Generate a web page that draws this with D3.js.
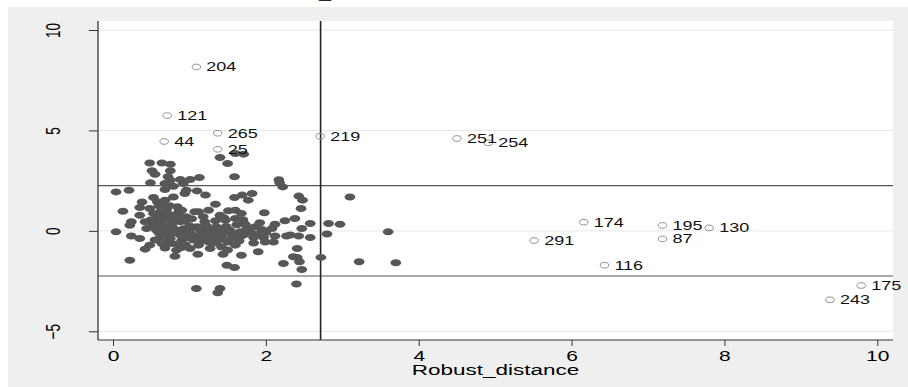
<!DOCTYPE html>
<html>
<head>
<meta charset="utf-8">
<script src="https://cdn.jsdelivr.net/npm/d3@7"></script>
<style>
  html, body { margin: 0; padding: 0; background: #fff; }
  svg { display: block; }
  text { font-family: "Liberation Sans", Arial, Helvetica, sans-serif; }
</style>
</head>
<body>
<svg id="chart" width="908" height="387"></svg>
<script>
// Observations inside the cutoffs: [robust distance, studentized residual]
const regular = [
  [0.48,3.38],[0.64,3.38],[0.75,3.32],[0.51,2.99],[0.55,2.82],[0.75,2.99],[0.72,2.69],[0.75,2.52],
  [0.88,2.56],[1.01,2.56],[0.49,2.39],[0.68,2.36],[0.79,2.22],[0.92,2.36],[0.68,2.06],[0.96,2.02],
  [0.04,1.94],[0.21,2.02],[0.53,1.66],[0.68,1.53],[0.79,1.69],[0.94,1.86],[0.38,1.44],[0.35,1.16],
  [0.13,0.98],[0.35,0.78],[0.48,1.11],[0.53,0.87],[0.59,0.70],[0.70,1.03],[0.77,0.78],[0.90,1.03],
  [0.96,0.70],[1.07,0.95],[0.24,0.45],[0.22,0.28],[0.42,0.45],[0.55,0.37],[0.66,0.28],[0.77,0.37],
  [0.88,0.45],[0.44,0.12],[0.57,0.03],[0.70,0.03],[0.83,0.03],[0.04,-0.05],[0.24,-0.26],[0.35,-0.38],
  [0.62,-0.30],[0.75,-0.38],[0.88,-0.21],[1.01,-0.13],[0.64,-0.63],[0.77,-0.63],[0.90,-0.46],[1.05,-0.46],
  [0.48,-0.71],[0.42,-0.91],[0.83,-0.96],[0.81,-1.26],[0.90,-0.83],[1.01,-0.88],[0.22,-1.46],[1.09,-2.87],
  [1.40,3.65],[1.50,3.35],[1.60,3.85],[1.71,3.82],[1.13,2.66],[1.59,2.69],[2.17,2.55],[2.18,2.40],
  [2.22,2.19],[1.10,1.99],[1.21,1.78],[1.59,1.66],[1.69,1.78],[1.82,1.86],[1.77,1.53],[1.34,1.33],
  [1.12,0.95],[1.25,1.03],[1.40,0.78],[1.51,1.00],[1.60,1.03],[1.68,0.87],[1.98,0.90],[1.20,0.45],
  [1.34,0.50],[1.47,0.53],[1.60,0.62],[1.73,0.33],[1.86,0.20],[2.12,0.33],[2.25,0.50],[1.14,0.03],
  [1.27,0.07],[1.40,0.03],[1.53,0.03],[1.66,-0.05],[1.79,-0.05],[1.95,0.07],[2.08,0.12],[1.16,-0.38],
  [1.29,-0.33],[1.42,-0.30],[1.55,-0.38],[1.68,-0.26],[1.84,-0.33],[1.97,-0.33],[2.12,-0.26],[2.27,-0.26],
  [1.12,-0.71],[1.27,-0.88],[1.42,-0.80],[1.60,-0.71],[1.84,-0.60],[1.99,-0.55],[2.10,-0.55],[1.44,-1.16],
  [1.68,-1.21],[1.90,-1.04],[1.11,-1.16],[1.49,-1.71],[1.59,-1.82],[2.23,-1.62],[2.36,-1.29],[1.40,-2.87],
  [1.37,-3.08],[2.43,1.73],[2.48,1.53],[2.46,1.11],[3.10,1.69],[2.38,0.62],[2.58,0.37],[2.82,0.37],
  [2.97,0.33],[2.47,0.12],[2.32,-0.21],[2.43,-0.26],[2.58,-0.33],[2.80,-0.16],[3.60,-0.05],[2.41,-0.88],
  [2.41,-1.32],[2.44,-1.54],[2.72,-1.32],[3.22,-1.54],[3.70,-1.59],[2.47,-1.92],[2.40,-2.65],
  [0.60,0.55],[0.65,0.80],[0.72,0.60],[0.80,0.55],[0.85,0.75],[0.60,0.20],[0.70,0.15],[0.78,0.18],
  [0.92,0.10],[1.00,0.25],[1.05,0.15],[0.60,-0.10],[0.70,-0.15],[0.80,-0.10],[0.95,-0.35],[1.08,-0.25],
  [1.20,-0.15],[1.33,-0.12],[1.45,-0.10],[1.60,-0.20],[1.72,-0.18],[1.25,-0.55],[1.35,-0.60],[1.50,-0.55],
  [1.65,-0.50],[1.10,0.20],[1.22,0.25],[1.35,0.20],[1.48,0.22],[1.62,0.30],[1.50,-0.95],[1.30,-0.60],
  [0.55,-0.45],[0.50,0.55],[0.65,1.30],[0.60,1.25],
  [0.62,0.95],[0.74,1.25],[0.84,1.20],[0.58,1.45],[0.86,0.95],[0.95,0.50],[1.03,0.60],[0.66,0.60],
  [0.72,-0.50],[0.85,-0.65],[0.95,-0.70],[1.15,-0.50],[1.38,-0.45],[1.55,-0.15],[1.75,0.10],[1.88,-0.15],
  [1.92,0.40],[2.00,-0.10],[1.70,0.55],[1.45,0.65],[0.52,0.25],[0.97,-0.05],[1.18,0.70],[0.68,-0.85]
];

// Flagged observations, drawn hollow with their id
const flaggedIds = ["204","121","265","44","25","219","251","254","174","195","130","291","87","116","175","243"];
const flaggedX   = [1.09, 0.71, 1.37, 0.67, 1.37, 2.71, 4.50, 4.91, 6.16, 7.19, 7.80, 5.51, 7.19, 6.43, 9.79, 9.38];
const flaggedY   = [8.16, 5.74, 4.86, 4.45, 4.06, 4.71, 4.60, 4.38, 0.43, 0.27, 0.15, -0.48, -0.40, -1.71, -2.72, -3.43];

const xTicks = [0, 2, 4, 6, 8, 10];
const yTicks = [-5, 0, 5, 10];
const distCutoff = 2.716;
const residCutoffs = [2.25, -2.25];
const xTitle = "Robust_distance";

// Layout
const STRETCH = 1.5;           // horizontal text/marker aspect
const plot = { left: 98, right: 893, top: 21, bottom: 340 };
const svg = d3.select("#chart");

const x = d3.scaleLinear().domain([0, 10]).range([113, 877.3]);
const y = d3.scaleLinear().domain([-5, 10]).range([331.3, 30]);

// Outer graph region
svg.append("rect").attr("x", 0).attr("y", 0).attr("width", 908).attr("height", 387).attr("fill", "#ffffff");
svg.append("rect").attr("x", 8).attr("y", 7).attr("width", 900).attr("height", 380).attr("fill", "#efefef");

// Title remnant at the very top edge
svg.append("text").attr("transform", `translate(325,-1.6) scale(${STRETCH},1)`)
  .attr("text-anchor", "middle").attr("font-size", 14).attr("fill", "#222").text("_");

// Plot region
svg.append("rect")
  .attr("x", plot.left).attr("y", plot.top)
  .attr("width", plot.right - plot.left).attr("height", plot.bottom - plot.top)
  .attr("fill", "#ffffff");

// Gridlines
svg.append("g").selectAll("line").data(yTicks).join("line")
  .attr("x1", plot.left).attr("x2", plot.right)
  .attr("y1", d => y(d)).attr("y2", d => y(d))
  .attr("stroke", "#e6e6e6").attr("stroke-width", 1);

// Cutoff reference lines
svg.append("g").selectAll("line").data(residCutoffs).join("line")
  .attr("x1", plot.left).attr("x2", plot.right)
  .attr("y1", d => y(d)).attr("y2", d => y(d))
  .attr("stroke", "#555").attr("stroke-width", 1.1);
svg.append("line")
  .attr("x1", x(distCutoff)).attr("x2", x(distCutoff))
  .attr("y1", plot.top).attr("y2", plot.bottom)
  .attr("stroke", "#222").attr("stroke-width", 1.6);

// Regular observations
svg.append("g").selectAll("ellipse").data(regular).join("ellipse")
  .attr("cx", d => x(d[0])).attr("cy", d => y(d[1]))
  .attr("rx", 5.4).attr("ry", 3.5)
  .attr("fill", "#575757");

// Flagged observations
const flagged = flaggedIds.map((id, i) => ({ id, dx: flaggedX[i], ry: flaggedY[i] }));
svg.append("g").selectAll("ellipse").data(flagged).join("ellipse")
  .attr("cx", d => x(d.dx)).attr("cy", d => y(d.ry))
  .attr("rx", 4.2).attr("ry", 2.8)
  .attr("fill", "none").attr("stroke", "#8f8f8f").attr("stroke-width", 1);
svg.append("g").selectAll("text").data(flagged).join("text")
  .attr("transform", d => `translate(${x(d.dx) + 10},${y(d.ry) + 4.3}) scale(${STRETCH},1)`)
  .attr("font-size", 12).attr("fill", "#111")
  .text(d => d.id);

// Axes
const gx = svg.append("g").attr("transform", `translate(0,${plot.bottom})`)
  .call(d3.axisBottom(x).tickValues(xTicks).tickSize(6).tickSizeOuter(0).tickFormat(d3.format("d")));
gx.select(".domain").remove();
gx.selectAll(".tick line").attr("stroke", "#333");
gx.selectAll(".tick text")
  .attr("y", null).attr("dy", null)
  .attr("transform", `translate(0,21) scale(${STRETCH},1)`)
  .attr("font-size", 14).attr("fill", "#000");

const gy = svg.append("g").attr("transform", `translate(${plot.left},0)`)
  .call(d3.axisLeft(y).tickValues(yTicks).tickSize(9).tickSizeOuter(0).tickFormat(d3.format("d")));
gy.select(".domain").remove();
gy.selectAll(".tick line").attr("stroke", "#333");
gy.selectAll(".tick text")
  .attr("x", null).attr("dy", null)
  .attr("text-anchor", "middle")
  .attr("transform", `translate(-38,0) scale(${STRETCH},1) rotate(-90)`)
  .attr("font-size", 13.5).attr("fill", "#000");

// Axis lines
svg.append("line").attr("x1", plot.left).attr("x2", plot.left)
  .attr("y1", plot.top).attr("y2", plot.bottom).attr("stroke", "#333").attr("stroke-width", 1.3);
svg.append("line").attr("x1", plot.left).attr("x2", plot.right)
  .attr("y1", plot.bottom).attr("y2", plot.bottom).attr("stroke", "#333").attr("stroke-width", 1);

// Axis title
svg.append("text")
  .attr("transform", `translate(${(plot.left + plot.right) / 2},374.5) scale(${STRETCH},1)`)
  .attr("text-anchor", "middle").attr("font-size", 15).attr("fill", "#000")
  .text(xTitle);
</script>
</body>
</html>
